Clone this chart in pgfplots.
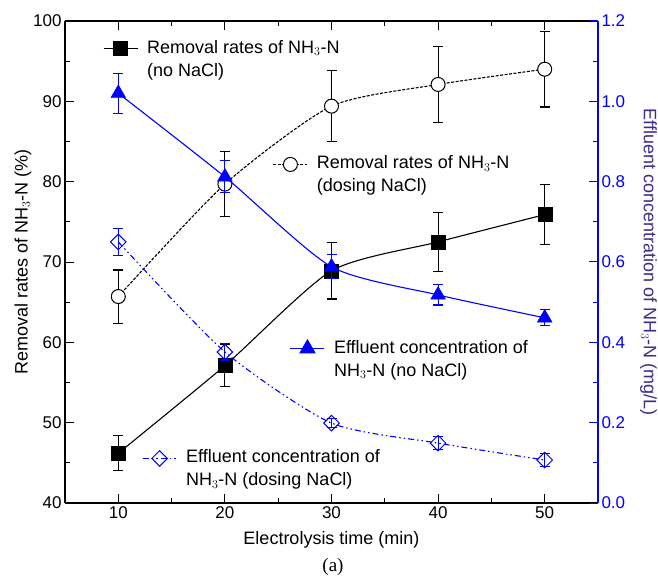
\documentclass[border=0pt]{standalone}
\usepackage{pgfplots}
\pgfplotsset{compat=1.18}
\usepackage{fontspec}
\setmainfont{Liberation Sans}
\newfontfamily\capserif{Liberation Serif}
\definecolor{myblue}{RGB}{0,0,255}
\definecolor{labpurple}{RGB}{60,45,140}

\pgfplotstableread{
x y e
10 46.2 2.2
20 57.1 2.6
30 68.9 3.5
40 72.5 3.7
50 75.9 3.7
}\squares
\pgfplotstableread{
x y e
10 65.7 3.3
20 79.7 4.0
30 89.4 4.4
40 92.1 4.7
50 94.0 4.7
}\circles
\pgfplotstableread{
x y e
10 1.020 0.050
20 0.812 0.040
30 0.588 0.030
40 0.518 0.025
50 0.461 0.020
}\triangles
\pgfplotstableread{
x y e
10 0.650 0.034
20 0.376 0.020
30 0.199 0.012
40 0.149 0.016
50 0.107 0.017
}\diamonds

\newcommand\bigf{\fontsize{18}{21}\selectfont}
\newcommand\tickf{\fontsize{17}{20}\selectfont}

\pgfplotsset{
  base/.style={
    width=533pt, height=482pt, scale only axis,
    xmin=5, xmax=55,
    tick align=inside,
    major tick length=9pt, minor tick length=5pt,
    /pgf/number format/assume math mode=true,
    every tick/.style={line width=1pt},
    tick label style={font=\tickf},
    label style={font=\bigf},
  },
  hiddenleg/.style={
    base, hide axis, ymin=0, ymax=1,
    legend style={draw=none, fill=none, inner sep=0pt, outer sep=0pt,
      row sep=6pt, column sep=9pt, font=\bigf,
      nodes={inner sep=0pt, outer sep=0pt, text height=13pt, text depth=4pt, font=\bigf}},
    legend cell align=left,
    legend image code/.code={\draw[mark repeat=2,mark phase=2,##1] plot coordinates {(0pt,0pt) (17pt,0pt) (34pt,0pt)};},
  },
  sqstyle/.style={black, line width=1.1pt, mark=square*, mark size=7pt, mark options={solid, fill=black}},
  cistyle/.style={black, line width=1.1pt, dash pattern=on 3pt off 1.5pt, mark=*, mark size=7pt, mark options={solid, fill=white, line width=1pt}},
  tristyle/.style={myblue, line width=1.1pt, mark=triangle*, mark size=8.5pt, mark options={solid, fill=myblue}},
  distyle/.style={myblue, line width=1.1pt, dash pattern=on 6pt off 3pt on 1.5pt off 3pt on 1.5pt off 3pt, mark=square, mark size=5.5pt, mark options={solid, rotate=45, line width=1pt}},
}

\begin{document}
\begin{tikzpicture}[font=\bigf]
\path[use as bounding box] (-65pt,-78pt) rectangle (593pt,503pt);

% left axis
\begin{axis}[base,
  ymin=40, ymax=100,
  axis x line=box, axis y line*=left,
  axis line style={line width=1.3pt},
  xtick={10,20,30,40,50}, minor x tick num=1,
  ytick={40,50,...,100}, minor y tick num=1,
  xticklabel pos=bottom,
  xlabel={Electrolysis time (min)},
  ylabel={Removal rates of NH$_3$-N (\%)},
  xlabel style={yshift=-6pt},
  ylabel style={yshift=-5pt},
  error bars/error bar style={solid, line width=1.1pt},
  error bars/error mark options={rotate=90, mark size=5pt, line width=1.1pt},
]
\addplot[black, line width=1.1pt, smooth, tension=0.4] table[x=x,y=y] {\squares};
\addplot[black, line width=1.1pt, dash pattern=on 3pt off 1.5pt, smooth, tension=0.4] table[x=x,y=y] {\circles};
\addplot[black, only marks, mark=*, mark size=7pt, mark options={fill=white, line width=1pt},
  error bars/.cd, y dir=both, y explicit] table[x=x,y=y,y error=e] {\circles};
\addplot[black, only marks, mark=square*, mark size=7pt,
  error bars/.cd, y dir=both, y explicit] table[x=x,y=y,y error=e] {\squares};
\end{axis}

% right axis
\begin{axis}[base,
  ymin=0, ymax=1.2,
  axis x line=none, axis y line*=right,
  axis line style={line width=1.3pt, myblue},
  ytick={0,0.2,...,1.2}, minor y tick num=1,
  y tick label style={myblue, /pgf/number format/fixed, /pgf/number format/fixed zerofill, /pgf/number format/precision=1},
  every y tick/.style={myblue, line width=1pt},
  every minor y tick/.style={myblue, line width=1pt},
  ylabel={Effluent concentration of NH$_3$-N (mg/L)},
  ylabel style={labpurple, rotate=180, yshift=8pt},
  error bars/error bar style={solid, line width=1.1pt},
  error bars/error mark options={rotate=90, mark size=5pt, line width=1.1pt},
]
\addplot[myblue, line width=1.1pt, smooth, tension=0.4] table[x=x,y=y] {\triangles};
\addplot[myblue, line width=1.1pt, dash pattern=on 6pt off 3pt on 1.5pt off 3pt on 1.5pt off 3pt, smooth, tension=0.4] table[x=x,y=y] {\diamonds};
\addplot[myblue, only marks, mark=triangle*, mark size=8.5pt,
  error bars/.cd, y dir=both, y explicit] table[x=x,y=y,y error=e] {\triangles};
\addplot[myblue, only marks, mark=square, mark size=5.5pt, mark options={rotate=45, line width=1pt},
  error bars/.cd, y dir=both, y explicit] table[x=x,y=y,y error=e] {\diamonds};
\end{axis}

% legends
\begin{axis}[hiddenleg, legend style={at={(rel axis cs:0.0713,0.9605)}, anchor=north west}]
\addlegendimage{sqstyle}
\addlegendentry{Removal rates of NH$_3$-N}
\addlegendimage{empty legend}
\addlegendentry{(no NaCl)}
\end{axis}
\begin{axis}[hiddenleg, legend style={at={(rel axis cs:0.390,0.720)}, anchor=north west}]
\addlegendimage{cistyle}
\addlegendentry{Removal rates of NH$_3$-N}
\addlegendimage{empty legend}
\addlegendentry{(dosing NaCl)}
\end{axis}
\begin{axis}[hiddenleg, legend style={at={(rel axis cs:0.422,0.338)}, anchor=north west}]
\addlegendimage{tristyle}
\addlegendentry{Effluent concentration of}
\addlegendimage{empty legend}
\addlegendentry{NH$_3$-N (no NaCl)}
\end{axis}
\begin{axis}[hiddenleg, legend style={at={(rel axis cs:0.1445,0.110)}, anchor=north west}]
\addlegendimage{distyle}
\addlegendentry{Effluent concentration of}
\addlegendimage{empty legend}
\addlegendentry{NH$_3$-N (dosing NaCl)}
\end{axis}

\node[font=\capserif\fontsize{19}{22}\selectfont] at (268pt,-64pt) {(a)};
\end{tikzpicture}
\end{document}
